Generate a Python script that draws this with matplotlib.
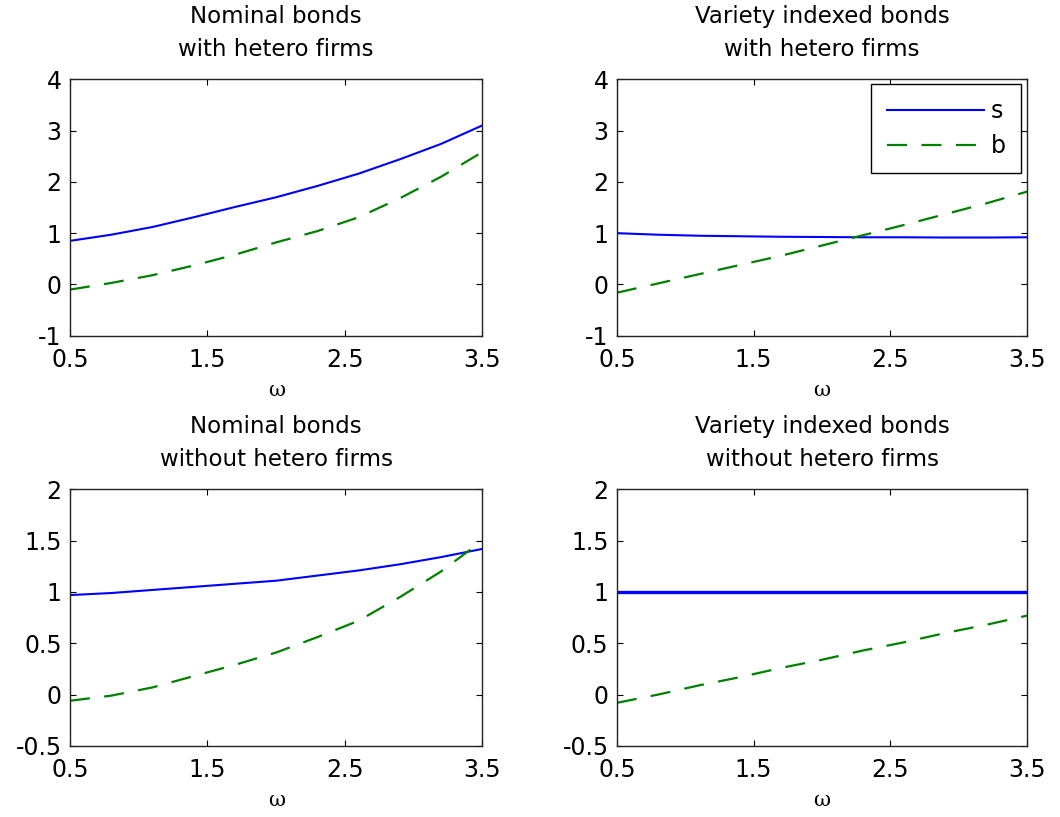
import matplotlib
matplotlib.use('Agg')
from matplotlib import pyplot as plt

# omega grid the curves were read on
omega = [0.5, 0.8, 1.1, 1.4, 1.7, 2.0, 2.3, 2.6, 2.9, 3.2, 3.5]

# nominal bonds, with hetero firms
nom_het_s = [0.85, 0.97, 1.12, 1.31, 1.51, 1.70, 1.92, 2.16, 2.44, 2.74, 3.10]
nom_het_b = [-0.10, 0.03, 0.18, 0.37, 0.58, 0.82, 1.04, 1.31, 1.68, 2.10, 2.58]

# variety indexed bonds, with hetero firms
var_het_s = [1.00, 0.97, 0.95, 0.94, 0.93, 0.925, 0.92, 0.92, 0.915, 0.915, 0.92]
var_het_b = [-0.16, 0.02, 0.20, 0.38, 0.56, 0.76, 0.96, 1.16, 1.37, 1.58, 1.81]

# nominal bonds, without hetero firms
nom_nohet_s = [0.97, 0.99, 1.02, 1.05, 1.08, 1.11, 1.16, 1.21, 1.27, 1.34, 1.42]
nom_nohet_b = [-0.06, -0.01, 0.07, 0.18, 0.29, 0.41, 0.56, 0.72, 0.95, 1.20, 1.50]

# variety indexed bonds, without hetero firms
var_nohet_s = [1.00, 1.00, 1.00, 1.00, 1.00, 1.00, 1.00, 1.00, 1.00, 1.00, 1.00]
var_nohet_b = [-0.08, 0.00, 0.09, 0.17, 0.26, 0.34, 0.43, 0.51, 0.60, 0.68, 0.77]

titles = ['Nominal bonds\nwith hetero firms',
          'Variety indexed bonds\nwith hetero firms',
          'Nominal bonds\nwithout hetero firms',
          'Variety indexed bonds\nwithout hetero firms']
xticks = [0.5, 1.5, 2.5, 3.5]
yticks_top = [-1, 0, 1, 2, 3, 4]
yticks_bot = [-0.5, 0, 0.5, 1, 1.5, 2]

panels = [
    (nom_het_s, nom_het_b, yticks_top),
    (var_het_s, var_het_b, yticks_top),
    (nom_nohet_s, nom_nohet_b, yticks_bot),
    (var_nohet_s, var_nohet_b, yticks_bot),
]

plt.rcParams['font.family'] = 'DejaVu Sans'

fig = plt.figure(figsize=(10.6, 8.17), dpi=100)
rects = [
    [0.066, 0.589, 0.389, 0.314],
    [0.582, 0.589, 0.387, 0.314],
    [0.066, 0.087, 0.389, 0.314],
    [0.582, 0.087, 0.387, 0.314],
]

for i, (s, b, yt) in enumerate(panels):
    ax = fig.add_axes(rects[i])
    lw_s = 2.4 if i == 3 else 1.5
    ax.plot(omega, s, color='#0000ff', lw=lw_s, label='s')
    ax.plot(omega, b, color='#008000', lw=1.6, dashes=(9, 6.5), label='b')
    ax.set_xlim(0.5, 3.5)
    ax.set_ylim(yt[0], yt[-1])
    ax.set_xticks(xticks)
    ax.set_xticklabels(['0.5', '1.5', '2.5', '3.5'])
    ax.set_yticks(yt)
    ax.set_yticklabels([('%g' % v) for v in yt])
    ax.tick_params(direction='in', top=True, right=True, length=4, width=0.8,
                   labelsize=17, colors='black')
    ax.tick_params(axis='x', pad=9)
    ax.tick_params(axis='y', pad=6)
    for sp in ax.spines.values():
        sp.set_linewidth(1.0)
        sp.set_color('#222222')
    ax.set_title(titles[i], fontsize=16.5, pad=17, linespacing=1.55)
    ax.set_xlabel('ω', fontsize=15, family='DejaVu Serif', labelpad=6)
    if i == 1:
        leg = ax.legend(loc='upper right', fontsize=17, handlelength=4.1,
                        fancybox=False, framealpha=1, edgecolor='black',
                        borderpad=0.65, labelspacing=0.45, handletextpad=0.3,
                        borderaxespad=0, bbox_to_anchor=(0.985, 0.981))
        leg.get_frame().set_linewidth(1.0)

fig.savefig('out.png', dpi=100)
